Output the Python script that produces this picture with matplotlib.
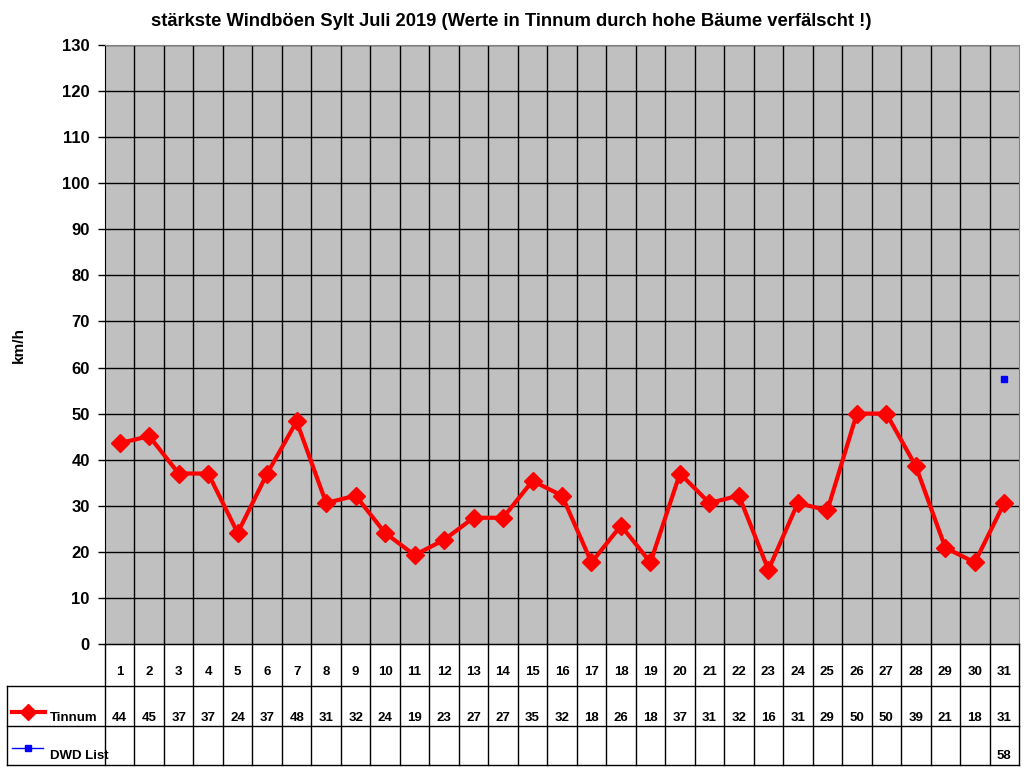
import matplotlib.pyplot as plt
import numpy as np

plt.rcParams['font.family'] = ['Liberation Sans', 'DejaVu Sans']

# data
days = list(range(1, 32))
tinnum = [43.6, 45.1, 37.0, 37.0, 24.1, 37.0, 48.3, 30.6, 32.2, 24.1, 19.3, 22.6, 27.4, 27.4, 35.4, 32.2,
          17.7, 25.7, 17.7, 37.0, 30.6, 32.2, 16.1, 30.6, 29.0, 50.0, 50.0, 38.6, 20.9, 17.7, 30.6]
dwd_list = [None] * 30 + [57.6]
title = 'stärkste Windböen Sylt Juli 2019 (Werte in Tinnum durch hohe Bäume verfälscht !)'


def xl_round(v):
    # excel style half-up rounding for the table
    return str(int(v + 0.5))


W, H = 1024, 768
fig = plt.figure(figsize=(W / 100, H / 100), dpi=100)

left_px, right_px, top_px, bottom_px = 105, 1019, 45, 644
ax = fig.add_axes([left_px / W, 1 - bottom_px / H, (right_px - left_px) / W, (bottom_px - top_px) / H])
ax.set_facecolor('#c0c0c0')
ax.set_xlim(0.5, 31.5)
ax.set_ylim(0, 130)
ax.set_yticks(np.arange(0, 131, 10))
ax.set_xticks([])
for v in np.arange(10, 131, 10):
    ax.axhline(v, color='black', lw=1.0, zorder=1)
for d in np.arange(1.5, 31.5, 1):
    ax.axvline(d, color='black', lw=1.0, zorder=1)
for s in ['top', 'right']:
    ax.spines[s].set_color('#808080')
ax.spines['left'].set_color('black')
ax.spines['bottom'].set_color('black')
ax.tick_params(axis='y', length=5, width=1, labelsize=12, pad=6)
for lbl in ax.get_yticklabels():
    lbl.set_fontweight('bold')

ax.plot(days, tinnum, color='#ff0000', lw=3, marker='D', ms=9, zorder=3)
dwd_x = [d for d, v in zip(days, dwd_list) if v is not None]
dwd_y = [v for v in dwd_list if v is not None]
ax.plot(dwd_x, dwd_y, color='#0000ff', lw=1, marker='s', ms=5, ls='none', zorder=3)

fig.text(19 / W, 1 - 345 / H, 'km/h', rotation=90, ha='center', va='center', fontsize=11, fontweight='bold')
fig.text(511 / W, 1 - 21 / H, title, ha='center', va='center', fontsize=13.2, fontweight='bold')

# data table below the plot
tb = fig.add_axes([0, 0, 1, 1])
tb.set_xlim(0, W)
tb.set_ylim(H, 0)
tb.axis('off')
rows = [644, 686, 726, 765]
col_w = (right_px - left_px) / 31
edges = [left_px + i * col_w for i in range(32)]
lw = 1.0
for x in edges:
    tb.plot([x, x], [rows[0], rows[-1]], color='black', lw=lw)
tb.plot([left_px, right_px], [rows[0], rows[0]], color='black', lw=lw)
for y in rows[1:]:
    tb.plot([7, right_px], [y, y], color='black', lw=lw)
tb.plot([7, 7], [rows[1], rows[-1]], color='black', lw=lw)

fs = 9.5
for i, d in enumerate(days):
    cx = (edges[i] + edges[i + 1]) / 2
    tb.text(cx, 672, str(d), ha='center', va='center', fontsize=fs, fontweight='bold')
    tb.text(cx, 718, xl_round(tinnum[i]), ha='center', va='center', fontsize=fs, fontweight='bold')
    if dwd_list[i] is not None:
        tb.text(cx, 756, xl_round(dwd_list[i]), ha='center', va='center', fontsize=fs, fontweight='bold')

tb.plot([12, 45], [712, 712], color='#ff0000', lw=3)
tb.plot([28], [712], color='#ff0000', marker='D', ms=8)
tb.text(50, 718, 'Tinnum', ha='left', va='center', fontsize=fs, fontweight='bold')
tb.plot([12, 43], [748, 748], color='#0000ff', lw=1)
tb.plot([28], [748], color='#0000ff', marker='s', ms=5)
tb.text(50, 756, 'DWD List', ha='left', va='center', fontsize=fs, fontweight='bold')

fig.savefig('out.png', dpi=100)
